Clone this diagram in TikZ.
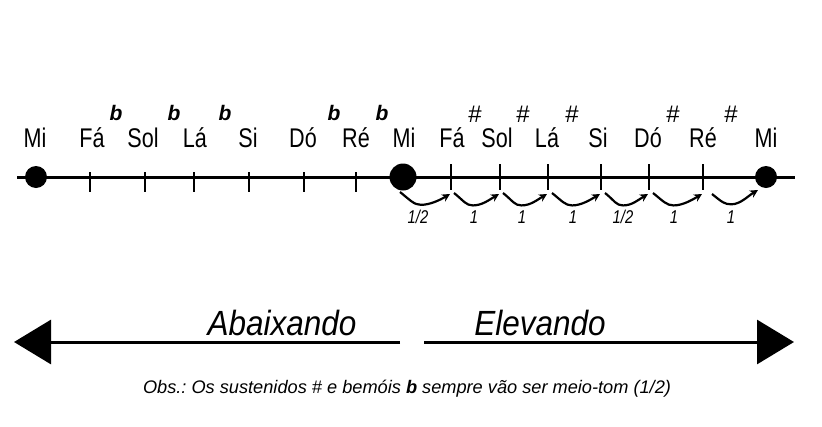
\documentclass[tikz,border=0pt]{standalone}
\usepackage{fontspec}
\setmainfont{Liberation Sans}
\newfontfamily\notefont[FakeStretch=0.8]{Liberation Sans}
\newfontfamily\bigfont[FakeStretch=0.9]{Liberation Sans}
\newfontfamily\stepfont[FakeStretch=0.8]{Liberation Sans}
\usetikzlibrary{arrows.meta,calc}
\begin{document}
\frenchspacing
\begin{tikzpicture}[x=1pt,y=-1pt,
  note/.style={anchor=base,inner sep=0pt,font=\notefont\fontsize{27}{27}\selectfont},
  flat/.style={anchor=base,inner sep=0pt,font=\fontsize{21}{21}\selectfont\bfseries\itshape},
  sharp/.style={anchor=base,inner sep=0pt,font=\fontsize{24}{24}\selectfont},
  steplbl/.style={anchor=base,inner sep=0pt,font=\stepfont\fontsize{18.5}{18.5}\selectfont\itshape},
  bigtxt/.style={anchor=base,inner sep=0pt,font=\bigfont\fontsize{35}{35}\selectfont\itshape},
  axis/.style={line width=3pt},
  tick/.style={line width=2.4pt},
  dot/.style={circle,fill=black,inner sep=0pt},
  semi/.style={line width=2.2pt,-{Stealth[length=8pt,width=8pt]}},
  big/.style={line width=3pt,-{Triangle[length=37pt,width=44pt]}}]
\useasboundingbox (0,0) rectangle (822,426);
% axis
\coordinate (L) at (17,177);
\coordinate (R) at (795,177);
\draw[axis] (L) -- (R);
\node[dot,minimum size=22pt] (d1) at (36,177) {};
\node[dot,minimum size=27pt] (d2) at (403,177) {};
\node[dot,minimum size=22pt] (d3) at (766,177) {};
% left ticks
\foreach \x [count=\i] in {90,145,194,249,304,356}{
  \coordinate (lt\i) at (\x,172);
  \coordinate (lb\i) at (\x,192);
  \draw[tick] (lt\i) -- (lb\i);
}
% right ticks
\foreach \x [count=\i] in {451,500,548,601,649,703}{
  \coordinate (rt\i) at (\x,164);
  \coordinate (rb\i) at (\x,190);
  \draw[tick] (rt\i) -- (rb\i);
}
% left labels
\node[note] (m1) at (35,147) {Mi};
\node[note] (lfa) at (92,147) {Fá};
\node[note] (lsol) at (143,147) {Sol};
\node[note] (lla) at (195,147) {Lá};
\node[note] (lsi) at (248,147) {Si};
\node[note] (ldo) at (303,147) {Dó};
\node[note] (lre) at (356,147) {Ré};
\node[note] (m2) at (404,147) {Mi};
% right labels
\node[note] (rfa) at (452,147) {Fá};
\node[note] (rsol) at (497,147) {Sol};
\node[note] (rla) at (547,147) {Lá};
\node[note] (rsi) at (598,147) {Si};
\node[note] (rdo) at (648,147) {Dó};
\node[note] (rre) at (703,147) {Ré};
\node[note] (m3) at (766,147) {Mi};
% flats
\foreach \x [count=\i] in {116,174,225,334,382}{
  \node[flat] (fl\i) at (\x,120) {b};
}
% sharps
\foreach \x [count=\i] in {475,523,572,673,731}{
  \node[sharp] (sh\i) at (\x,122) {\#};
}
% step arrows
\coordinate (s0) at (400,192);
\coordinate (e1) at (450,194);
\coordinate (s1) at (454,193);
\coordinate (e2) at (499,194);
\coordinate (s2) at (503,193);
\coordinate (e3) at (547,194);
\coordinate (s3) at (552,193);
\coordinate (e4) at (600,194);
\coordinate (s4) at (605,193);
\coordinate (e5) at (648,194);
\coordinate (s5) at (653,193);
\coordinate (e6) at (702,194);
\coordinate (s6) at (712,194);
\coordinate (e7) at (758,190);
\foreach \a/\b in {s0/e1,s1/e2,s2/e3,s3/e4,s4/e5,s5/e6,s6/e7}{
  \coordinate (m) at ($(\a)!0.42!(\b)+(0,12)$);
  \draw[semi] (\a) .. controls ($(\a)+(10,8)$) and ($(m)+(-7,0)$) .. (m)
     .. controls ($(m)+(9,0)$) and ($(\b)+(-10,6)$) .. (\b);
}
% step labels
\node[steplbl] (t1) at (418,223) {1/2};
\node[steplbl] (t2) at (474,223) {1};
\node[steplbl] (t3) at (522,223) {1};
\node[steplbl] (t4) at (573,223) {1};
\node[steplbl] (t5) at (623,223) {1/2};
\node[steplbl] (t6) at (674,223) {1};
\node[steplbl] (t7) at (731,223) {1};
% big arrows
\coordinate (a1) at (400,342);
\coordinate (a0) at (14,342);
\coordinate (b1) at (424,342);
\coordinate (b0) at (794,342);
\draw[big] (a1) -- (a0);
\draw[big] (b1) -- (b0);
\node[bigtxt] (abx) at (282,335) {Abaixando};
\node[bigtxt] (elv) at (540,335) {Elevando};
\node[anchor=base,inner sep=0pt,font=\fontsize{18.2}{18.2}\selectfont\itshape] (obs) at (407,393)
  {Obs.: Os sustenidos \# e bemóis {\bfseries b} sempre vão ser meio-tom (1/2)};
\end{tikzpicture}
\end{document}
